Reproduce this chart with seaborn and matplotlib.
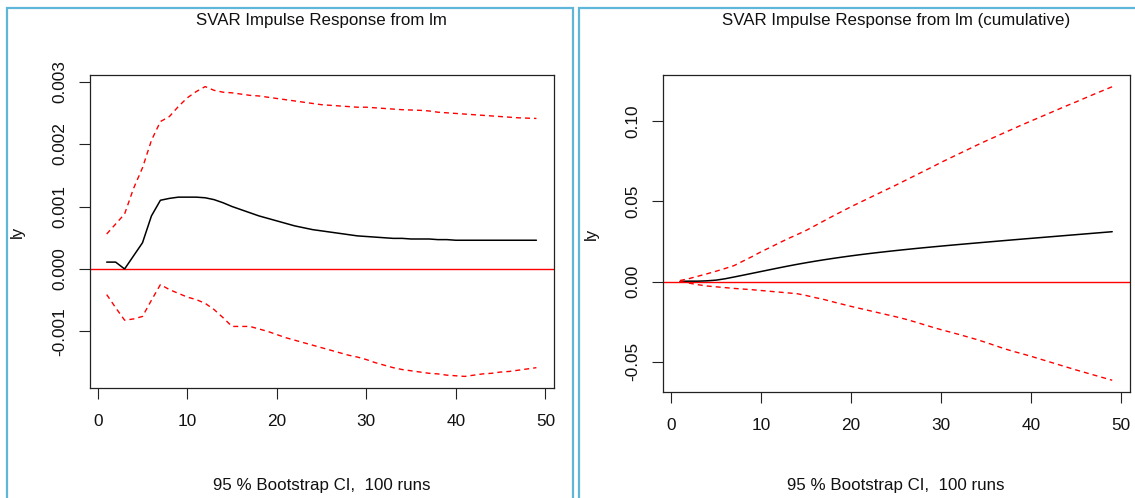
import numpy as np
import matplotlib
matplotlib.use("Agg")
import matplotlib.pyplot as plt
from matplotlib.patches import Rectangle
import seaborn as sns

# Impulse response of ly to a structural shock in lm, horizons 1..49
horizon = list(range(1, 50))

irf = [0.00011, 0.00011, 0.00000, 0.00021, 0.00042, 0.00085, 0.00110, 0.00113, 0.00115, 0.00115,
       0.00115, 0.00114, 0.00111, 0.00106, 0.00100, 0.00095, 0.00090, 0.00085, 0.00081, 0.00077,
       0.00073, 0.00069, 0.00066, 0.00063, 0.00061, 0.00059, 0.00057, 0.00055, 0.00053, 0.00052,
       0.00051, 0.00050, 0.00049, 0.00049, 0.00048, 0.00048, 0.00048, 0.00047, 0.00047, 0.00046,
       0.00046, 0.00046, 0.00046, 0.00046, 0.00046, 0.00046, 0.00046, 0.00046, 0.00046]
irf_upper = [0.00056, 0.00072, 0.00088, 0.00129, 0.00162, 0.00206, 0.00236, 0.00244, 0.00260, 0.00274,
             0.00284, 0.00292, 0.00286, 0.00283, 0.00282, 0.00280, 0.00278, 0.00277, 0.00275, 0.00273,
             0.00271, 0.00269, 0.00267, 0.00265, 0.00263, 0.00262, 0.00261, 0.00260, 0.00259, 0.00259,
             0.00258, 0.00257, 0.00256, 0.00255, 0.002545, 0.00254, 0.00253, 0.00251, 0.00250, 0.00249,
             0.00248, 0.00247, 0.00246, 0.00245, 0.00244, 0.00243, 0.00242, 0.002415, 0.00241]
irf_lower = [-0.00041, -0.00062, -0.00082, -0.00080, -0.00076, -0.00050, -0.00025, -0.00033, -0.00039, -0.00045,
             -0.00049, -0.00055, -0.00065, -0.00078, -0.00092, -0.00092, -0.00092, -0.00096, -0.00100, -0.00105,
             -0.00110, -0.00114, -0.00118, -0.00122, -0.00126, -0.00130, -0.00134, -0.00138, -0.00141, -0.00145,
             -0.00150, -0.00154, -0.00158, -0.00161, -0.00163, -0.00165, -0.00167, -0.00168, -0.00170, -0.00171,
             -0.00172, -0.00170, -0.00168, -0.00167, -0.00165, -0.00164, -0.00162, -0.00160, -0.00158]

# Cumulative response and its bootstrap band
cum = [0.00011, 0.00022, 0.00022, 0.00043, 0.00085, 0.00170, 0.00280, 0.00393, 0.00508, 0.00623,
       0.00738, 0.00852, 0.00963, 0.01069, 0.01169, 0.01264, 0.01354, 0.01439, 0.01520, 0.01597,
       0.01670, 0.01739, 0.01805, 0.01868, 0.01929, 0.01988, 0.02045, 0.02100, 0.02153, 0.02205,
       0.02256, 0.02306, 0.02355, 0.02404, 0.02452, 0.02500, 0.02548, 0.02595, 0.02642, 0.02688,
       0.02734, 0.02780, 0.02826, 0.02872, 0.02918, 0.02964, 0.03010, 0.03056, 0.03102]
cum_upper = [0.0006, 0.0018, 0.0033, 0.0048, 0.0064, 0.0081, 0.0099, 0.0127, 0.0155, 0.0185,
             0.0212, 0.0240, 0.0267, 0.0292, 0.0318, 0.0348, 0.0378, 0.0408, 0.0437, 0.0466,
             0.0493, 0.0520, 0.0547, 0.0574, 0.0601, 0.0629, 0.0657, 0.0685, 0.0713, 0.0742,
             0.0769, 0.0796, 0.0823, 0.0850, 0.0876, 0.0901, 0.0926, 0.0951, 0.0976, 0.1000,
             0.1024, 0.1048, 0.1072, 0.1096, 0.1119, 0.1143, 0.1167, 0.1190, 0.1213]
cum_lower = [0.0000, -0.0010, -0.0020, -0.0028, -0.0033, -0.0038, -0.0043, -0.0047, -0.0051, -0.0056,
             -0.0061, -0.0066, -0.0071, -0.0076, -0.0087, -0.0100, -0.0112, -0.0127, -0.0141, -0.0155,
             -0.0168, -0.0181, -0.0194, -0.0207, -0.0220, -0.0234, -0.0250, -0.0267, -0.0284, -0.0300,
             -0.0315, -0.0330, -0.0346, -0.0362, -0.0380, -0.0399, -0.0418, -0.0435, -0.0450, -0.0466,
             -0.0483, -0.0500, -0.0517, -0.0534, -0.0551, -0.0567, -0.0583, -0.0599, -0.0615]

x_ticks = [0, 10, 20, 30, 40, 50]
irf_ticks = [-0.001, 0.0, 0.001, 0.002, 0.003]
irf_tick_labels = ["-0.001", "0.000", "0.001", "0.002", "0.003"]
cum_ticks = [-0.05, 0.0, 0.05, 0.10]
cum_tick_labels = ["-0.05", "0.00", "0.05", "0.10"]

titles = ["SVAR Impulse Response from lm", "SVAR Impulse Response from lm (cumulative)"]
y_name = "ly"
sub_text = "95 % Bootstrap CI,  100 runs"

sns.set_theme(style="white")
plt.rcParams["font.family"] = ["Liberation Sans", "DejaVu Sans"]

W, H = 1135, 498
fig = plt.figure(figsize=(W / 100, H / 100), dpi=100)
fig.patch.set_facecolor("white")

def px_axes(x0, x1, y0, y1):
    return fig.add_axes([x0 / W, 1 - y1 / H, (x1 - x0) / W, (y1 - y0) / H])

# Device frames around each panel
frame_col = "#5fb6d9"
for fx0, fx1 in [(7, 573), (579, 1160)]:
    fig.add_artist(Rectangle((fx0 / W, -0.1), (fx1 - fx0) / W, 1 - 8 / H + 0.1,
                             transform=fig.transFigure, fill=False,
                             edgecolor=frame_col, lw=1.6, zorder=0))

dash = (0, (3.6, 2.9))
panels = [
    dict(box=(89.5, 553.6, 75, 388), mid=irf, up=irf_upper, lo=irf_lower,
         yt=irf_ticks, ytl=irf_tick_labels, title=titles[0], ylab_x=17),
    dict(box=(662.7, 1129.5, 75, 392), mid=cum, up=cum_upper, lo=cum_lower,
         yt=cum_ticks, ytl=cum_tick_labels, title=titles[1], ylab_x=591),
]

for p in panels:
    x0, x1, y0, y1 = p["box"]
    ax = px_axes(x0, x1, y0, y1)
    ax.set_facecolor("white")
    sns.lineplot(x=horizon, y=p["mid"], ax=ax, color="black", lw=1.1)
    sns.lineplot(x=horizon, y=p["up"], ax=ax, color="red", lw=1.0, linestyle=dash)
    sns.lineplot(x=horizon, y=p["lo"], ax=ax, color="red", lw=1.0, linestyle=dash)
    ax.axhline(0, color="red", lw=1.0, zorder=1)

    span = len(horizon) - 1
    ax.set_xlim(horizon[0] - 0.04 * span, horizon[-1] + 0.04 * span)
    lo_v = min(p["lo"]); hi_v = max(p["up"])
    r = hi_v - lo_v
    ax.set_ylim(lo_v - 0.04 * r, hi_v + 0.04 * r)

    ax.set_xticks(x_ticks)
    ax.set_xticklabels([str(t) for t in x_ticks])
    ax.set_yticks(p["yt"])
    ax.set_yticklabels(p["ytl"], rotation=90, va="center")
    ax.tick_params(axis="both", direction="out", length=8, width=0.8,
                   color="#222222", labelsize=12.4, labelcolor="#111111")
    ax.tick_params(axis="x", pad=11)
    ax.tick_params(axis="y", pad=8)
    ax.xaxis.set_ticks_position("bottom")
    ax.yaxis.set_ticks_position("left")
    for s in ax.spines.values():
        s.set_visible(True)
        s.set_color("#222222")
        s.set_linewidth(0.9)
    ax.set_xlabel("")
    ax.set_ylabel("")

    cx = (x0 + x1) / 2
    fig.text(cx / W, 1 - 21 / H, p["title"], ha="center", va="center",
             fontsize=12.2, color="#111111")
    fig.text(cx / W, 1 - 485 / H, sub_text, ha="center", va="center",
             fontsize=12.2, color="#111111")
    fig.text(p["ylab_x"] / W, 1 - ((y0 + y1) / 2) / H, y_name, ha="center",
             va="center", rotation=90, fontsize=12.2, color="#111111")

fig.savefig("out.png", dpi=100, facecolor="white")
